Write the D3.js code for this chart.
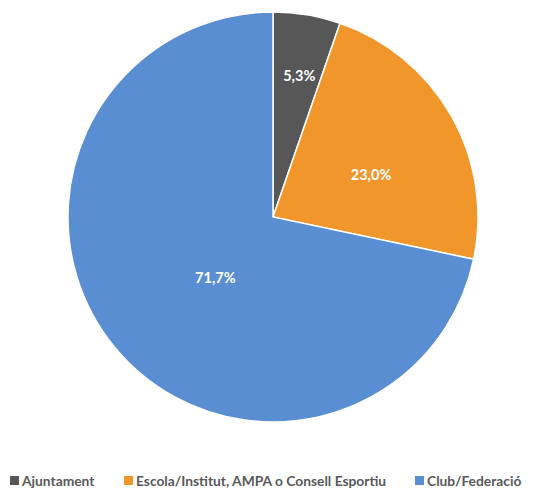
<!DOCTYPE html>
<html>
<head>
<meta charset="utf-8">
<script src="https://cdn.jsdelivr.net/npm/d3@7"></script>
<style>
  body { margin: 0; background: #fff; }
  svg text { font-family: Lato, "Open Sans", sans-serif; }
</style>
</head>
<body>
<div id="chart"></div>
<script>
// chart data
var categories = ["Ajuntament", "Escola/Institut, AMPA o Consell Esportiu", "Club/Federació"];
var values = [5.3, 23.0, 71.7];
var colors = ["#575757", "#f0962a", "#5a8ed2"];

// label placement (Excel puts them a bit off the centroid)
var labelFrac = [0.70, 0.52, 0.41];
var labelNudge = [1, 6.4, -7.6];
var legendX = [10, 124, 415];

var width = 544, height = 490;
var cx = 273, cy = 217, radius = 205;

var svg = d3.select("#chart")
  .append("svg")
	.attr("width", width)
	.attr("height", height);

var pie = d3.pie().sort(null).value(function(d){ return d; });
var arcs = pie(values);

var arc = d3.arc().innerRadius(0).outerRadius(radius);

var g = svg.append("g")
	.attr("transform", "translate(" + cx + "," + cy + ")");

g.selectAll("path.slice")
	.data(arcs)
	.enter()
	.append("path")
	.attr("class", "slice")
	.attr("d", arc)
	.attr("fill", function(d, i){ return colors[i]; })
	.attr("stroke", "#fff")
	.attr("stroke-width", 1.5);

// percentage labels
g.selectAll("text.lbl")
	.data(arcs)
	.enter()
	.append("text")
	.attr("class", "lbl")
	.attr("transform", function(d, i){
		var a = (d.startAngle + d.endAngle) / 2 + labelNudge[i] * Math.PI / 180;
		var r = radius * labelFrac[i];
		return "translate(" + (Math.sin(a) * r) + "," + (-Math.cos(a) * r) + ")";
	})
	.attr("dy", "0.35em")
	.style("text-anchor", "middle")
	.style("fill", "#fff")
	.style("font-size", "14.5px")
	.style("font-weight", "700")
	.text(function(d){ return d.data.toFixed(1).replace(".", ",") + "%"; });

// legend
var legend = svg.selectAll("g.legend")
	.data(categories)
	.enter()
	.append("g")
	.attr("class", "legend")
	.attr("transform", function(d, i){ return "translate(" + legendX[i] + ",481)"; });

legend.append("rect")
	.attr("x", 0)
	.attr("y", -5)
	.attr("width", 9)
	.attr("height", 9)
	.attr("fill", function(d, i){ return colors[i]; });

legend.append("text")
	.attr("x", 12)
	.attr("y", 4.5)
	.style("fill", "#595959")
	.style("font-size", "13.8px")
	.style("font-weight", "700")
	.text(function(d){ return d; });
</script>
</body>
</html>
